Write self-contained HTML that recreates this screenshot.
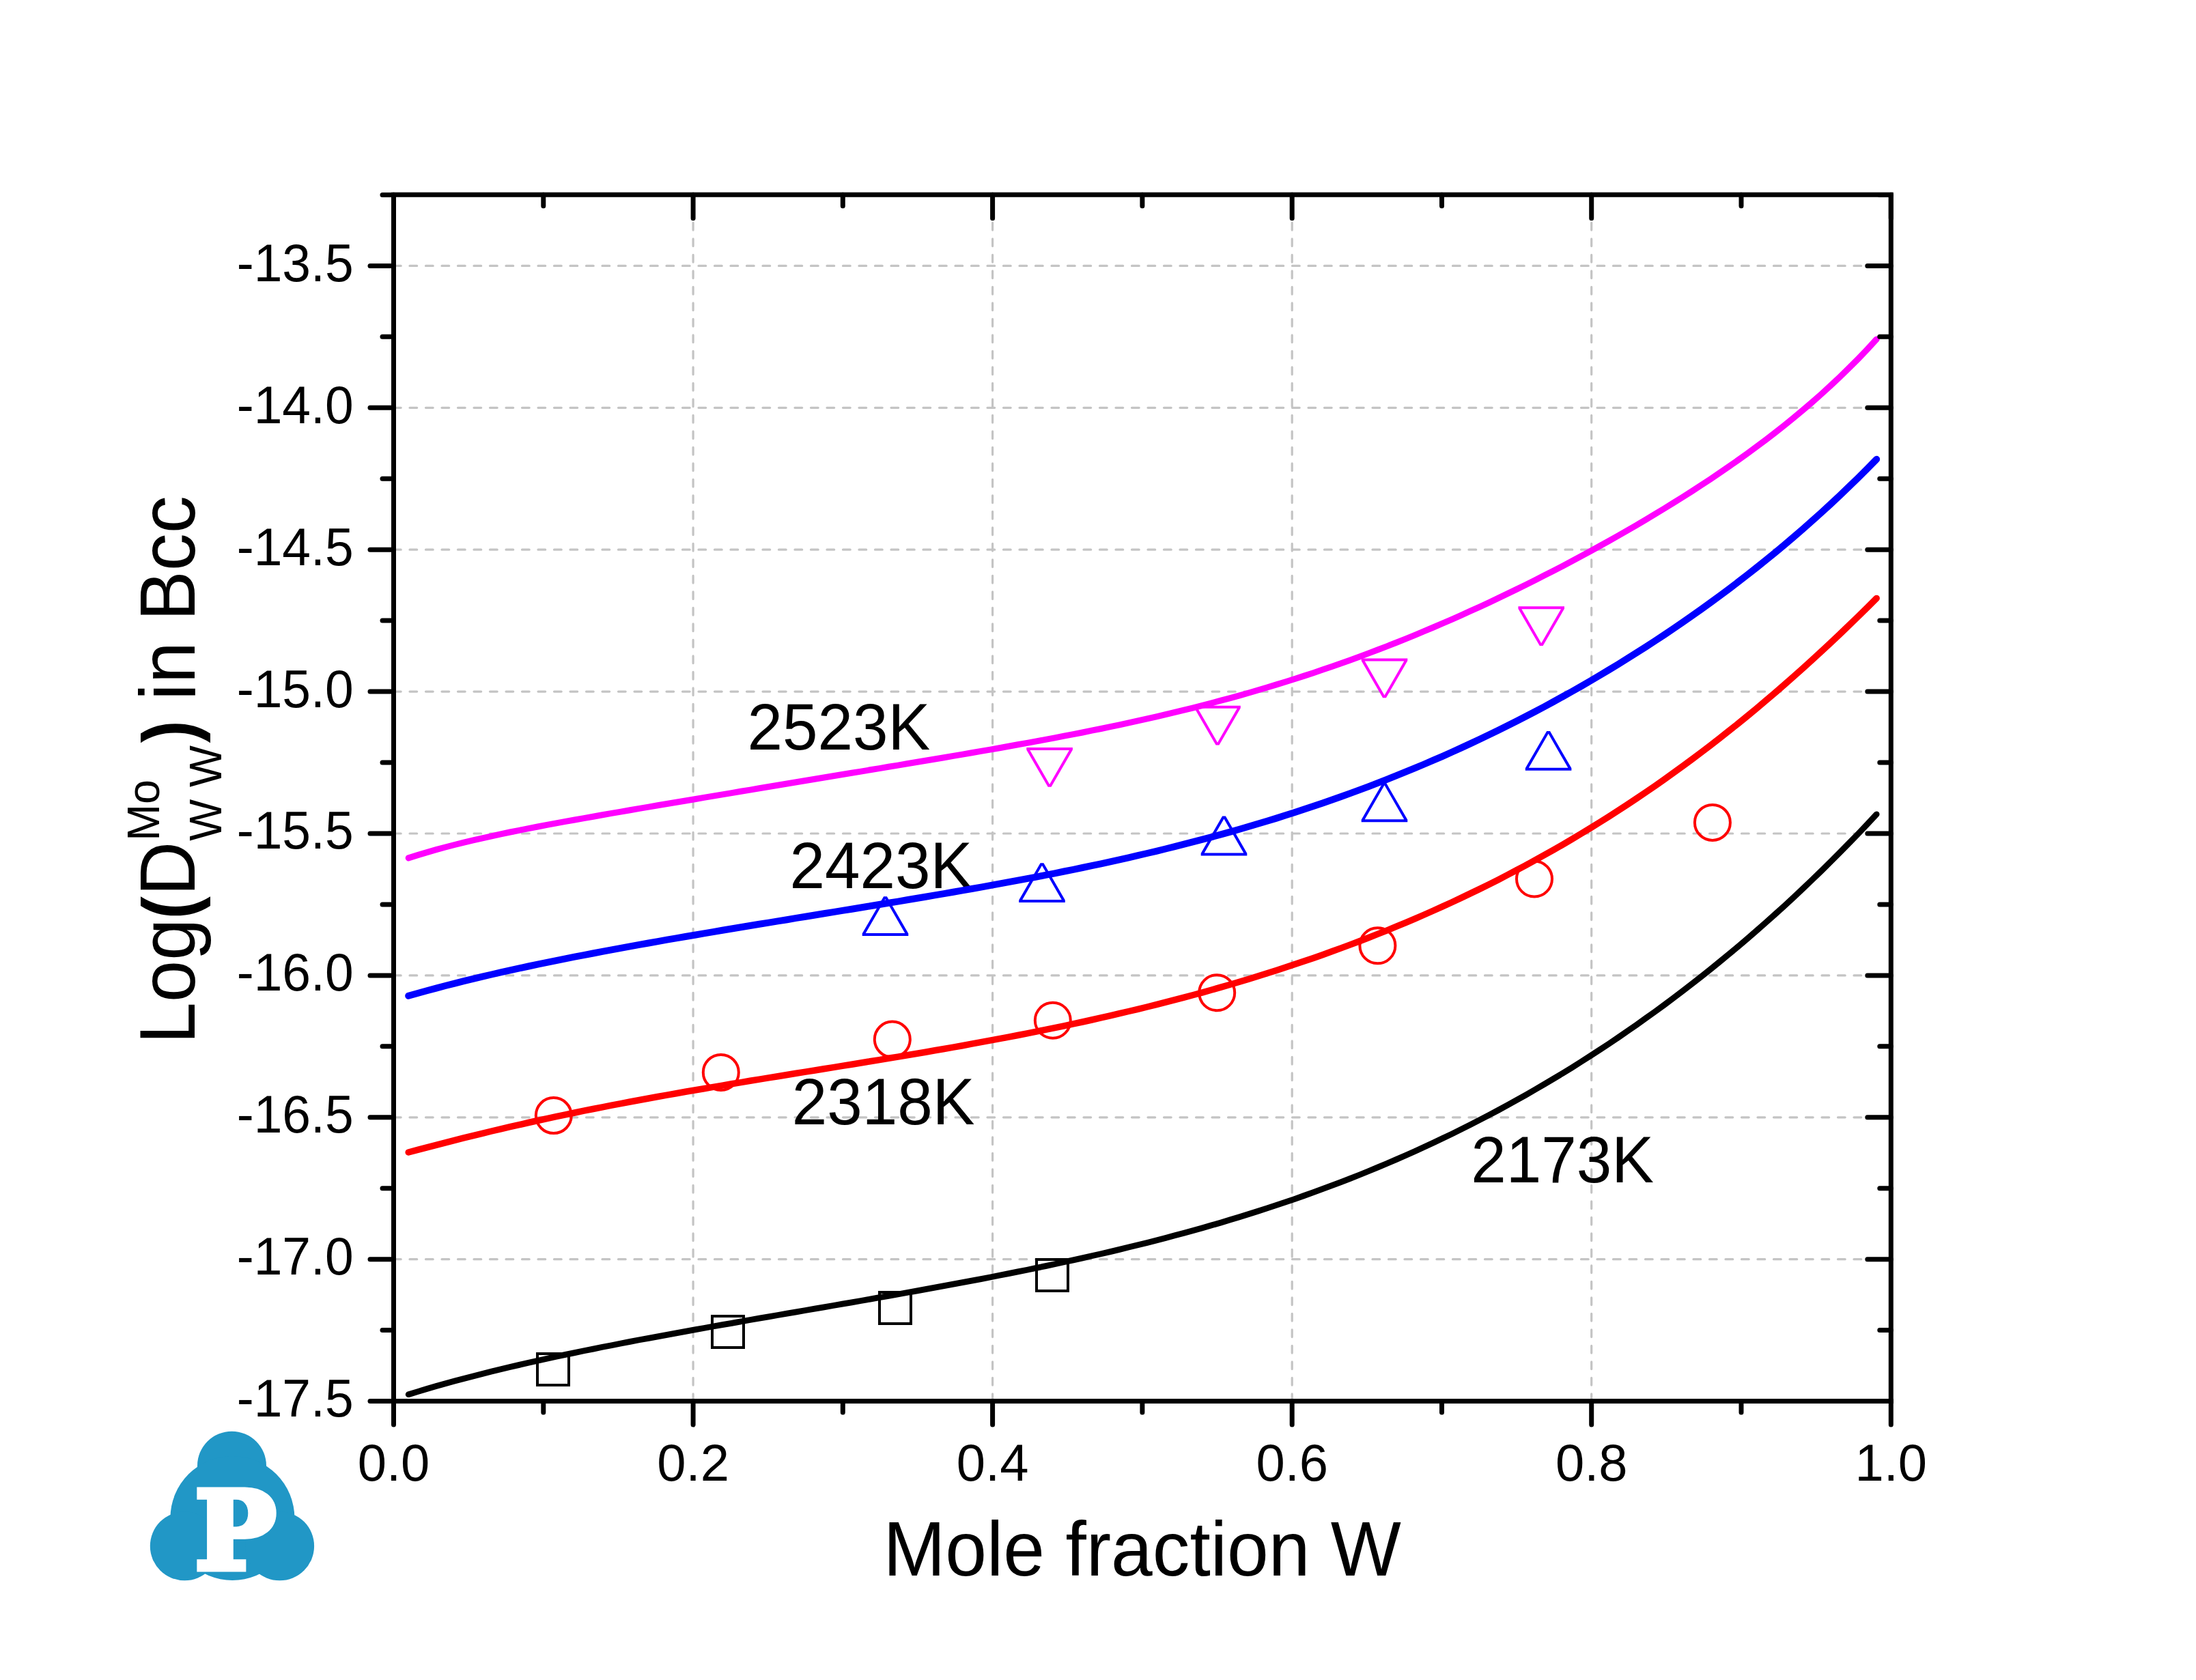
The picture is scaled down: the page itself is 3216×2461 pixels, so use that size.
<!DOCTYPE html>
<html lang="en"><head><meta charset="utf-8"><title>Log(D) in Bcc vs Mole fraction W</title>
<style>html,body{margin:0;padding:0;background:#fff}svg{display:block}text{font-family:"Liberation Sans",sans-serif;fill:#000}</style></head><body>
<svg width="3216" height="2461" viewBox="0 0 3216 2461">
<rect width="3216" height="2461" fill="#fff"/>
<g stroke="#c4c4c4" stroke-width="3.2" fill="none" stroke-dasharray="10.7 12.8" stroke-linecap="round">
<line x1="1015.1" y1="2052.6" x2="1015.1" y2="285.3" stroke-dashoffset="0.0"/>
<line x1="1453.6" y1="2052.6" x2="1453.6" y2="285.3" stroke-dashoffset="0.0"/>
<line x1="1892.2" y1="2052.6" x2="1892.2" y2="285.3" stroke-dashoffset="0.0"/>
<line x1="2330.7" y1="2052.6" x2="2330.7" y2="285.3" stroke-dashoffset="0.0"/>
<line x1="576.5" y1="1844.7" x2="2769.3" y2="1844.7" stroke-dashoffset="0.0"/>
<line x1="576.5" y1="1636.8" x2="2769.3" y2="1636.8" stroke-dashoffset="0.0"/>
<line x1="576.5" y1="1428.9" x2="2769.3" y2="1428.9" stroke-dashoffset="0.0"/>
<line x1="576.5" y1="1221.0" x2="2769.3" y2="1221.0" stroke-dashoffset="0.0"/>
<line x1="576.5" y1="1013.1" x2="2769.3" y2="1013.1" stroke-dashoffset="0.0"/>
<line x1="576.5" y1="805.2" x2="2769.3" y2="805.2" stroke-dashoffset="0.0"/>
<line x1="576.5" y1="597.3" x2="2769.3" y2="597.3" stroke-dashoffset="0.0"/>
<line x1="576.5" y1="389.4" x2="2769.3" y2="389.4" stroke-dashoffset="0.0"/>
</g>
<text transform="translate(1094.4,1098.0) scale(1,1.040)" font-size="92.6">2523K</text>
<text transform="translate(1156.5,1301.2) scale(1,1.040)" font-size="92.6">2423K</text>
<text transform="translate(1159.7,1647.0) scale(1,1.040)" font-size="92.6">2318K</text>
<text transform="translate(2154.2,1732.0) scale(1,1.040)" font-size="92.6">2173K</text>
<g fill="none" stroke-linecap="round" stroke-linejoin="round">
<path d="M598.2,2042.7 L611.7,2038.6 L625.2,2034.5 L638.8,2030.6 L652.3,2026.8 L665.8,2023.1 L679.3,2019.4 L692.9,2015.9 L706.4,2012.4 L719.9,2009.1 L733.4,2005.8 L746.9,2002.5 L760.5,1999.4 L774.0,1996.3 L787.5,1993.2 L801.0,1990.3 L814.6,1987.3 L828.1,1984.4 L841.6,1981.6 L855.1,1978.8 L868.6,1976.1 L882.2,1973.3 L895.7,1970.7 L909.2,1968.0 L922.7,1965.4 L936.3,1962.8 L949.8,1960.3 L963.3,1957.8 L976.8,1955.3 L990.3,1952.8 L1003.9,1950.3 L1017.4,1947.9 L1030.9,1945.5 L1044.4,1943.0 L1057.9,1940.7 L1071.5,1938.3 L1085.0,1935.9 L1098.5,1933.5 L1112.0,1931.2 L1125.6,1928.8 L1139.1,1926.5 L1152.6,1924.2 L1166.1,1921.8 L1179.6,1919.5 L1193.2,1917.2 L1206.7,1914.8 L1220.2,1912.5 L1233.7,1910.2 L1247.3,1907.8 L1260.8,1905.5 L1274.3,1903.1 L1287.8,1900.7 L1301.3,1898.4 L1314.9,1896.0 L1328.4,1893.5 L1341.9,1891.1 L1355.4,1888.7 L1369.0,1886.2 L1382.5,1883.7 L1396.0,1881.2 L1409.5,1878.7 L1423.0,1876.1 L1436.6,1873.6 L1450.1,1871.0 L1463.6,1868.3 L1477.1,1865.6 L1490.7,1862.9 L1504.2,1860.2 L1517.7,1857.4 L1531.2,1854.6 L1544.7,1851.7 L1558.3,1848.8 L1571.8,1845.9 L1585.3,1842.9 L1598.8,1839.8 L1612.4,1836.7 L1625.9,1833.6 L1639.4,1830.4 L1652.9,1827.1 L1666.4,1823.8 L1680.0,1820.4 L1693.5,1816.9 L1707.0,1813.4 L1720.5,1809.8 L1734.0,1806.2 L1747.6,1802.5 L1761.1,1798.7 L1774.6,1794.8 L1788.1,1790.9 L1801.7,1786.8 L1815.2,1782.7 L1828.7,1778.5 L1842.2,1774.3 L1855.7,1769.9 L1869.3,1765.4 L1882.8,1760.9 L1896.3,1756.3 L1909.8,1751.5 L1923.4,1746.7 L1936.9,1741.7 L1950.4,1736.7 L1963.9,1731.6 L1977.4,1726.3 L1991.0,1721.0 L2004.5,1715.5 L2018.0,1709.9 L2031.5,1704.2 L2045.1,1698.4 L2058.6,1692.5 L2072.1,1686.5 L2085.6,1680.3 L2099.1,1674.0 L2112.7,1667.6 L2126.2,1661.1 L2139.7,1654.4 L2153.2,1647.6 L2166.8,1640.7 L2180.3,1633.7 L2193.8,1626.5 L2207.3,1619.1 L2220.8,1611.7 L2234.4,1604.1 L2247.9,1596.3 L2261.4,1588.4 L2274.9,1580.4 L2288.5,1572.2 L2302.0,1563.9 L2315.5,1555.4 L2329.0,1546.8 L2342.5,1538.0 L2356.1,1529.1 L2369.6,1520.0 L2383.1,1510.7 L2396.6,1501.3 L2410.1,1491.7 L2423.7,1482.0 L2437.2,1472.1 L2450.7,1462.0 L2464.2,1451.7 L2477.8,1441.3 L2491.3,1430.7 L2504.8,1420.0 L2518.3,1409.0 L2531.8,1397.9 L2545.4,1386.6 L2558.9,1375.1 L2572.4,1363.4 L2585.9,1351.5 L2599.5,1339.4 L2613.0,1327.2 L2626.5,1314.7 L2640.0,1302.0 L2653.5,1289.1 L2667.1,1276.0 L2680.6,1262.7 L2694.1,1249.2 L2707.6,1235.4 L2721.2,1221.5 L2734.7,1207.2 L2748.2,1192.8" stroke="#000000" stroke-width="8.8"/>
<path d="M598.2,1688.0 L611.7,1684.4 L625.2,1680.8 L638.8,1677.3 L652.3,1673.8 L665.8,1670.3 L679.3,1666.9 L692.9,1663.6 L706.4,1660.3 L719.9,1657.0 L733.4,1653.8 L746.9,1650.7 L760.5,1647.6 L774.0,1644.5 L787.5,1641.5 L801.0,1638.6 L814.6,1635.7 L828.1,1632.8 L841.6,1630.0 L855.1,1627.2 L868.6,1624.5 L882.2,1621.8 L895.7,1619.2 L909.2,1616.6 L922.7,1614.0 L936.3,1611.5 L949.8,1609.0 L963.3,1606.5 L976.8,1604.1 L990.3,1601.7 L1003.9,1599.3 L1017.4,1597.0 L1030.9,1594.7 L1044.4,1592.4 L1057.9,1590.1 L1071.5,1587.8 L1085.0,1585.6 L1098.5,1583.3 L1112.0,1581.1 L1125.6,1578.9 L1139.1,1576.7 L1152.6,1574.5 L1166.1,1572.3 L1179.6,1570.1 L1193.2,1568.0 L1206.7,1565.8 L1220.2,1563.6 L1233.7,1561.4 L1247.3,1559.2 L1260.8,1557.0 L1274.3,1554.8 L1287.8,1552.6 L1301.3,1550.3 L1314.9,1548.1 L1328.4,1545.8 L1341.9,1543.5 L1355.4,1541.2 L1369.0,1538.8 L1382.5,1536.5 L1396.0,1534.1 L1409.5,1531.7 L1423.0,1529.2 L1436.6,1526.7 L1450.1,1524.2 L1463.6,1521.7 L1477.1,1519.1 L1490.7,1516.5 L1504.2,1513.8 L1517.7,1511.1 L1531.2,1508.4 L1544.7,1505.6 L1558.3,1502.8 L1571.8,1499.9 L1585.3,1497.0 L1598.8,1494.0 L1612.4,1490.9 L1625.9,1487.9 L1639.4,1484.7 L1652.9,1481.5 L1666.4,1478.3 L1680.0,1475.0 L1693.5,1471.6 L1707.0,1468.2 L1720.5,1464.7 L1734.0,1461.1 L1747.6,1457.5 L1761.1,1453.8 L1774.6,1450.0 L1788.1,1446.1 L1801.7,1442.2 L1815.2,1438.2 L1828.7,1434.2 L1842.2,1430.0 L1855.7,1425.8 L1869.3,1421.5 L1882.8,1417.1 L1896.3,1412.6 L1909.8,1408.1 L1923.4,1403.4 L1936.9,1398.7 L1950.4,1393.8 L1963.9,1388.9 L1977.4,1383.9 L1991.0,1378.7 L2004.5,1373.5 L2018.0,1368.2 L2031.5,1362.8 L2045.1,1357.2 L2058.6,1351.6 L2072.1,1345.8 L2085.6,1340.0 L2099.1,1334.0 L2112.7,1327.9 L2126.2,1321.7 L2139.7,1315.4 L2153.2,1308.9 L2166.8,1302.4 L2180.3,1295.7 L2193.8,1288.9 L2207.3,1281.9 L2220.8,1274.8 L2234.4,1267.6 L2247.9,1260.2 L2261.4,1252.7 L2274.9,1245.1 L2288.5,1237.3 L2302.0,1229.4 L2315.5,1221.3 L2329.0,1213.1 L2342.5,1204.8 L2356.1,1196.2 L2369.6,1187.6 L2383.1,1178.7 L2396.6,1169.7 L2410.1,1160.6 L2423.7,1151.3 L2437.2,1141.8 L2450.7,1132.2 L2464.2,1122.4 L2477.8,1112.4 L2491.3,1102.3 L2504.8,1091.9 L2518.3,1081.5 L2531.8,1070.8 L2545.4,1060.0 L2558.9,1049.0 L2572.4,1037.8 L2585.9,1026.4 L2599.5,1014.9 L2613.0,1003.2 L2626.5,991.3 L2640.0,979.2 L2653.5,967.0 L2667.1,954.6 L2680.6,942.0 L2694.1,929.2 L2707.6,916.3 L2721.2,903.2 L2734.7,889.9 L2748.2,876.4" stroke="#ff0000" stroke-width="9.5"/>
<path d="M598.2,1458.8 L611.7,1455.0 L625.2,1451.2 L638.8,1447.6 L652.3,1444.0 L665.8,1440.6 L679.3,1437.2 L692.9,1433.9 L706.4,1430.7 L719.9,1427.5 L733.4,1424.4 L746.9,1421.4 L760.5,1418.4 L774.0,1415.5 L787.5,1412.7 L801.0,1409.9 L814.6,1407.1 L828.1,1404.4 L841.6,1401.7 L855.1,1399.1 L868.6,1396.5 L882.2,1393.9 L895.7,1391.4 L909.2,1388.9 L922.7,1386.4 L936.3,1383.9 L949.8,1381.5 L963.3,1379.1 L976.8,1376.7 L990.3,1374.4 L1003.9,1372.0 L1017.4,1369.7 L1030.9,1367.4 L1044.4,1365.1 L1057.9,1362.8 L1071.5,1360.5 L1085.0,1358.3 L1098.5,1356.0 L1112.0,1353.8 L1125.6,1351.6 L1139.1,1349.4 L1152.6,1347.2 L1166.1,1344.9 L1179.6,1342.7 L1193.2,1340.5 L1206.7,1338.3 L1220.2,1336.1 L1233.7,1333.9 L1247.3,1331.7 L1260.8,1329.5 L1274.3,1327.3 L1287.8,1325.0 L1301.3,1322.8 L1314.9,1320.6 L1328.4,1318.3 L1341.9,1316.0 L1355.4,1313.7 L1369.0,1311.4 L1382.5,1309.1 L1396.0,1306.8 L1409.5,1304.4 L1423.0,1302.0 L1436.6,1299.6 L1450.1,1297.2 L1463.6,1294.7 L1477.1,1292.2 L1490.7,1289.7 L1504.2,1287.2 L1517.7,1284.6 L1531.2,1281.9 L1544.7,1279.3 L1558.3,1276.5 L1571.8,1273.8 L1585.3,1271.0 L1598.8,1268.1 L1612.4,1265.3 L1625.9,1262.3 L1639.4,1259.3 L1652.9,1256.3 L1666.4,1253.2 L1680.0,1250.0 L1693.5,1246.8 L1707.0,1243.5 L1720.5,1240.1 L1734.0,1236.7 L1747.6,1233.2 L1761.1,1229.7 L1774.6,1226.1 L1788.1,1222.4 L1801.7,1218.6 L1815.2,1214.8 L1828.7,1210.8 L1842.2,1206.8 L1855.7,1202.8 L1869.3,1198.6 L1882.8,1194.3 L1896.3,1190.0 L1909.8,1185.6 L1923.4,1181.1 L1936.9,1176.5 L1950.4,1171.8 L1963.9,1167.0 L1977.4,1162.1 L1991.0,1157.1 L2004.5,1152.1 L2018.0,1146.9 L2031.5,1141.6 L2045.1,1136.2 L2058.6,1130.7 L2072.1,1125.2 L2085.6,1119.5 L2099.1,1113.7 L2112.7,1107.8 L2126.2,1101.7 L2139.7,1095.6 L2153.2,1089.4 L2166.8,1083.0 L2180.3,1076.6 L2193.8,1070.0 L2207.3,1063.3 L2220.8,1056.5 L2234.4,1049.5 L2247.9,1042.5 L2261.4,1035.3 L2274.9,1028.0 L2288.5,1020.5 L2302.0,1013.0 L2315.5,1005.3 L2329.0,997.5 L2342.5,989.5 L2356.1,981.4 L2369.6,973.2 L2383.1,964.8 L2396.6,956.3 L2410.1,947.7 L2423.7,938.9 L2437.2,930.0 L2450.7,920.9 L2464.2,911.6 L2477.8,902.2 L2491.3,892.6 L2504.8,882.9 L2518.3,873.0 L2531.8,862.9 L2545.4,852.6 L2558.9,842.1 L2572.4,831.5 L2585.9,820.7 L2599.5,809.6 L2613.0,798.4 L2626.5,786.9 L2640.0,775.2 L2653.5,763.3 L2667.1,751.1 L2680.6,738.7 L2694.1,726.1 L2707.6,713.2 L2721.2,700.0 L2734.7,686.5 L2748.2,672.7" stroke="#0000ff" stroke-width="10.0"/>
<path d="M598.2,1256.9 L611.7,1252.6 L625.2,1248.6 L638.8,1244.7 L652.3,1241.0 L665.8,1237.5 L679.3,1234.1 L692.9,1230.9 L706.4,1227.8 L719.9,1224.8 L733.4,1221.8 L746.9,1219.0 L760.5,1216.3 L774.0,1213.6 L787.5,1211.0 L801.0,1208.4 L814.6,1205.9 L828.1,1203.4 L841.6,1201.0 L855.1,1198.6 L868.6,1196.2 L882.2,1193.8 L895.7,1191.4 L909.2,1189.1 L922.7,1186.8 L936.3,1184.4 L949.8,1182.1 L963.3,1179.8 L976.8,1177.5 L990.3,1175.3 L1003.9,1173.0 L1017.4,1170.7 L1030.9,1168.4 L1044.4,1166.1 L1057.9,1163.9 L1071.5,1161.6 L1085.0,1159.3 L1098.5,1157.1 L1112.0,1154.8 L1125.6,1152.5 L1139.1,1150.3 L1152.6,1148.0 L1166.1,1145.8 L1179.6,1143.5 L1193.2,1141.3 L1206.7,1139.0 L1220.2,1136.8 L1233.7,1134.5 L1247.3,1132.3 L1260.8,1130.1 L1274.3,1127.8 L1287.8,1125.6 L1301.3,1123.3 L1314.9,1121.1 L1328.4,1118.8 L1341.9,1116.5 L1355.4,1114.3 L1369.0,1112.0 L1382.5,1109.7 L1396.0,1107.4 L1409.5,1105.1 L1423.0,1102.8 L1436.6,1100.4 L1450.1,1098.1 L1463.6,1095.7 L1477.1,1093.3 L1490.7,1090.8 L1504.2,1088.4 L1517.7,1085.9 L1531.2,1083.4 L1544.7,1080.8 L1558.3,1078.2 L1571.8,1075.6 L1585.3,1073.0 L1598.8,1070.2 L1612.4,1067.5 L1625.9,1064.7 L1639.4,1061.8 L1652.9,1058.9 L1666.4,1055.9 L1680.0,1052.9 L1693.5,1049.8 L1707.0,1046.6 L1720.5,1043.4 L1734.0,1040.1 L1747.6,1036.8 L1761.1,1033.3 L1774.6,1029.8 L1788.1,1026.2 L1801.7,1022.6 L1815.2,1018.8 L1828.7,1015.0 L1842.2,1011.0 L1855.7,1007.0 L1869.3,1002.9 L1882.8,998.8 L1896.3,994.5 L1909.8,990.1 L1923.4,985.7 L1936.9,981.1 L1950.4,976.5 L1963.9,971.7 L1977.4,966.9 L1991.0,962.0 L2004.5,956.9 L2018.0,951.8 L2031.5,946.6 L2045.1,941.3 L2058.6,935.9 L2072.1,930.3 L2085.6,924.7 L2099.1,919.0 L2112.7,913.2 L2126.2,907.3 L2139.7,901.3 L2153.2,895.2 L2166.8,889.1 L2180.3,882.8 L2193.8,876.4 L2207.3,869.9 L2220.8,863.4 L2234.4,856.7 L2247.9,850.0 L2261.4,843.1 L2274.9,836.2 L2288.5,829.2 L2302.0,822.0 L2315.5,814.8 L2329.0,807.5 L2342.5,800.0 L2356.1,792.5 L2369.6,784.9 L2383.1,777.1 L2396.6,769.3 L2410.1,761.3 L2423.7,753.2 L2437.2,745.0 L2450.7,736.7 L2464.2,728.2 L2477.8,719.6 L2491.3,710.8 L2504.8,701.9 L2518.3,692.7 L2531.8,683.5 L2545.4,674.0 L2558.9,664.3 L2572.4,654.4 L2585.9,644.3 L2599.5,633.9 L2613.0,623.2 L2626.5,612.3 L2640.0,601.0 L2653.5,589.5 L2667.1,577.5 L2680.6,565.2 L2694.1,552.5 L2707.6,539.3 L2721.2,525.7 L2734.7,511.6 L2748.2,496.9" stroke="#ff00ff" stroke-width="9.0"/>
</g>
<g fill="none" stroke-width="4.0" stroke-linejoin="miter">
<rect x="787.0" y="1983.0" width="46.0" height="46.0" stroke="#000"/>
<rect x="1043.0" y="1928.0" width="46.0" height="46.0" stroke="#000"/>
<rect x="1288.0" y="1893.0" width="46.0" height="46.0" stroke="#000"/>
<rect x="1518.0" y="1845.0" width="46.0" height="46.0" stroke="#000"/>
<circle cx="810.8" cy="1634.1" r="26.0" stroke="#f00"/>
<circle cx="1055.8" cy="1570.9" r="26.0" stroke="#f00"/>
<circle cx="1306.8" cy="1522.6" r="26.0" stroke="#f00"/>
<circle cx="1541.8" cy="1494.7" r="26.0" stroke="#f00"/>
<circle cx="1782.2" cy="1454.2" r="26.0" stroke="#f00"/>
<circle cx="2017.4" cy="1385.3" r="26.0" stroke="#f00"/>
<circle cx="2247.0" cy="1287.5" r="26.0" stroke="#f00"/>
<circle cx="2507.9" cy="1204.9" r="26.0" stroke="#f00"/>
</g>
<g stroke="none" fill-rule="evenodd">
<path d="M1294.1,1313.2 L1298.9,1313.2 L1330.3,1367.5 L1330.3,1371.0 L1262.7,1371.0 L1262.7,1367.5 Z M1296.5,1317.0 L1267.7,1367.0 L1325.3,1367.0 Z" fill="#00f"/>
<path d="M1523.6,1264.2 L1528.4,1264.2 L1559.8,1318.5 L1559.8,1322.0 L1492.2,1322.0 L1492.2,1318.5 Z M1526.0,1268.0 L1497.2,1318.0 L1554.8,1318.0 Z" fill="#00f"/>
<path d="M1790.1,1195.6 L1794.9,1195.6 L1826.3,1249.9 L1826.3,1253.4 L1758.7,1253.4 L1758.7,1249.9 Z M1792.5,1199.4 L1763.7,1249.4 L1821.3,1249.4 Z" fill="#00f"/>
<path d="M2025.1,1146.5 L2029.9,1146.5 L2061.3,1200.8 L2061.3,1204.2 L1993.7,1204.2 L1993.7,1200.8 Z M2027.5,1150.3 L1998.7,1200.2 L2056.3,1200.2 Z" fill="#00f"/>
<path d="M2265.2,1071.0 L2270.0,1071.0 L2301.4,1125.3 L2301.4,1128.8 L2233.8,1128.8 L2233.8,1125.3 Z M2267.6,1074.8 L2238.8,1124.8 L2296.4,1124.8 Z" fill="#00f"/>
<path d="M1534.7,1152.8 L1539.5,1152.8 L1570.9,1098.5 L1570.9,1095.0 L1503.3,1095.0 L1503.3,1098.5 Z M1537.1,1149.0 L1508.3,1099.0 L1565.9,1099.0 Z" fill="#f0f"/>
<path d="M1780.6,1091.5 L1785.4,1091.5 L1816.8,1037.2 L1816.8,1033.8 L1749.2,1033.8 L1749.2,1037.2 Z M1783.0,1087.7 L1754.2,1037.8 L1811.8,1037.8 Z" fill="#f0f"/>
<path d="M2025.1,1022.3 L2029.9,1022.3 L2061.3,968.0 L2061.3,964.6 L1993.7,964.6 L1993.7,968.0 Z M2027.5,1018.5 L1998.7,968.6 L2056.3,968.6 Z" fill="#f0f"/>
<path d="M2254.8,946.0 L2259.6,946.0 L2291.0,891.7 L2291.0,888.2 L2223.4,888.2 L2223.4,891.7 Z M2257.2,942.2 L2228.4,892.2 L2286.0,892.2 Z" fill="#f0f"/>
</g>
<g stroke="#000" fill="none">
<g stroke-width="7.0" stroke-linecap="butt">
<line x1="576.5" y1="285.3" x2="576.5" y2="2056.1"/>
<line x1="2769.3" y1="285.3" x2="2769.3" y2="2056.1"/>
<line x1="573.0" y1="285.3" x2="2772.8" y2="285.3"/>
<line x1="573.0" y1="2052.6" x2="2772.8" y2="2052.6"/>
</g>
<g stroke-width="7.0" stroke-linecap="round">
<line x1="576.5" y1="2052.6" x2="576.5" y2="2087.1"/>
<line x1="576.5" y1="285.3" x2="576.5" y2="319.8"/>
<line x1="795.8" y1="2052.6" x2="795.8" y2="2069.1"/>
<line x1="795.8" y1="285.3" x2="795.8" y2="301.8"/>
<line x1="1015.1" y1="2052.6" x2="1015.1" y2="2087.1"/>
<line x1="1015.1" y1="285.3" x2="1015.1" y2="319.8"/>
<line x1="1234.3" y1="2052.6" x2="1234.3" y2="2069.1"/>
<line x1="1234.3" y1="285.3" x2="1234.3" y2="301.8"/>
<line x1="1453.6" y1="2052.6" x2="1453.6" y2="2087.1"/>
<line x1="1453.6" y1="285.3" x2="1453.6" y2="319.8"/>
<line x1="1672.9" y1="2052.6" x2="1672.9" y2="2069.1"/>
<line x1="1672.9" y1="285.3" x2="1672.9" y2="301.8"/>
<line x1="1892.2" y1="2052.6" x2="1892.2" y2="2087.1"/>
<line x1="1892.2" y1="285.3" x2="1892.2" y2="319.8"/>
<line x1="2111.5" y1="2052.6" x2="2111.5" y2="2069.1"/>
<line x1="2111.5" y1="285.3" x2="2111.5" y2="301.8"/>
<line x1="2330.7" y1="2052.6" x2="2330.7" y2="2087.1"/>
<line x1="2330.7" y1="285.3" x2="2330.7" y2="319.8"/>
<line x1="2550.0" y1="2052.6" x2="2550.0" y2="2069.1"/>
<line x1="2550.0" y1="285.3" x2="2550.0" y2="301.8"/>
<line x1="2769.3" y1="2052.6" x2="2769.3" y2="2087.1"/>
<line x1="2769.3" y1="285.3" x2="2769.3" y2="319.8"/>
<line x1="576.5" y1="2052.6" x2="542.0" y2="2052.6"/>
<line x1="2769.3" y1="2052.6" x2="2734.8" y2="2052.6"/>
<line x1="576.5" y1="1948.6" x2="560.0" y2="1948.6"/>
<line x1="2769.3" y1="1948.6" x2="2752.8" y2="1948.6"/>
<line x1="576.5" y1="1844.7" x2="542.0" y2="1844.7"/>
<line x1="2769.3" y1="1844.7" x2="2734.8" y2="1844.7"/>
<line x1="576.5" y1="1740.8" x2="560.0" y2="1740.8"/>
<line x1="2769.3" y1="1740.8" x2="2752.8" y2="1740.8"/>
<line x1="576.5" y1="1636.8" x2="542.0" y2="1636.8"/>
<line x1="2769.3" y1="1636.8" x2="2734.8" y2="1636.8"/>
<line x1="576.5" y1="1532.8" x2="560.0" y2="1532.8"/>
<line x1="2769.3" y1="1532.8" x2="2752.8" y2="1532.8"/>
<line x1="576.5" y1="1428.9" x2="542.0" y2="1428.9"/>
<line x1="2769.3" y1="1428.9" x2="2734.8" y2="1428.9"/>
<line x1="576.5" y1="1324.9" x2="560.0" y2="1324.9"/>
<line x1="2769.3" y1="1324.9" x2="2752.8" y2="1324.9"/>
<line x1="576.5" y1="1221.0" x2="542.0" y2="1221.0"/>
<line x1="2769.3" y1="1221.0" x2="2734.8" y2="1221.0"/>
<line x1="576.5" y1="1117.0" x2="560.0" y2="1117.0"/>
<line x1="2769.3" y1="1117.0" x2="2752.8" y2="1117.0"/>
<line x1="576.5" y1="1013.1" x2="542.0" y2="1013.1"/>
<line x1="2769.3" y1="1013.1" x2="2734.8" y2="1013.1"/>
<line x1="576.5" y1="909.1" x2="560.0" y2="909.1"/>
<line x1="2769.3" y1="909.1" x2="2752.8" y2="909.1"/>
<line x1="576.5" y1="805.2" x2="542.0" y2="805.2"/>
<line x1="2769.3" y1="805.2" x2="2734.8" y2="805.2"/>
<line x1="576.5" y1="701.2" x2="560.0" y2="701.2"/>
<line x1="2769.3" y1="701.2" x2="2752.8" y2="701.2"/>
<line x1="576.5" y1="597.3" x2="542.0" y2="597.3"/>
<line x1="2769.3" y1="597.3" x2="2734.8" y2="597.3"/>
<line x1="576.5" y1="493.3" x2="560.0" y2="493.3"/>
<line x1="2769.3" y1="493.3" x2="2752.8" y2="493.3"/>
<line x1="576.5" y1="389.4" x2="542.0" y2="389.4"/>
<line x1="2769.3" y1="389.4" x2="2734.8" y2="389.4"/>
<line x1="576.5" y1="285.4" x2="560.0" y2="285.4"/>
<line x1="2769.3" y1="285.4" x2="2752.8" y2="285.4"/>
</g>
</g>
<text transform="translate(517.6,2075.0) scale(1,1.040)" font-size="75.0" text-anchor="end">-17.5</text>
<text transform="translate(517.6,1867.1) scale(1,1.040)" font-size="75.0" text-anchor="end">-17.0</text>
<text transform="translate(517.6,1659.2) scale(1,1.040)" font-size="75.0" text-anchor="end">-16.5</text>
<text transform="translate(517.6,1451.3) scale(1,1.040)" font-size="75.0" text-anchor="end">-16.0</text>
<text transform="translate(517.6,1243.4) scale(1,1.040)" font-size="75.0" text-anchor="end">-15.5</text>
<text transform="translate(517.6,1035.5) scale(1,1.040)" font-size="75.0" text-anchor="end">-15.0</text>
<text transform="translate(517.6,827.6) scale(1,1.040)" font-size="75.0" text-anchor="end">-14.5</text>
<text transform="translate(517.6,619.7) scale(1,1.040)" font-size="75.0" text-anchor="end">-14.0</text>
<text transform="translate(517.6,411.8) scale(1,1.040)" font-size="75.0" text-anchor="end">-13.5</text>
<text transform="translate(576.5,2169.0) scale(1,1.010)" font-size="76.0" text-anchor="middle">0.0</text>
<text transform="translate(1015.1,2169.0) scale(1,1.010)" font-size="76.0" text-anchor="middle">0.2</text>
<text transform="translate(1453.6,2169.0) scale(1,1.010)" font-size="76.0" text-anchor="middle">0.4</text>
<text transform="translate(1892.2,2169.0) scale(1,1.010)" font-size="76.0" text-anchor="middle">0.6</text>
<text transform="translate(2330.7,2169.0) scale(1,1.010)" font-size="76.0" text-anchor="middle">0.8</text>
<text transform="translate(2769.3,2169.0) scale(1,1.010)" font-size="76.0" text-anchor="middle">1.0</text>
<text transform="translate(1293.4,2308.0) scale(1,1.040)" font-size="109.2">Mole fraction W</text>
<g transform="translate(285,1529.2) rotate(-90)">
<text transform="translate(0.0,0.0) scale(1,1.040)" font-size="110.0">Log</text>
<text x="183.0" y="0.0" font-size="110.0" font-weight="bold" textLength="33.0" lengthAdjust="spacingAndGlyphs">(</text>
<text transform="translate(217.0,0.0) scale(1,1.040)" font-size="110.0">D</text>
<text transform="translate(297.5,-52.4) scale(1,1.040)" font-size="64.5">Mo</text>
<text transform="translate(297.5,38.7) scale(1,1.040)" font-size="64.5">W W</text>
<text x="441.0" y="0.0" font-size="110.0" font-weight="bold" textLength="33.0" lengthAdjust="spacingAndGlyphs">)</text>
<text transform="translate(503.5,0.0) scale(1,1.040)" font-size="110.0">in Bcc</text>
</g>
<g>
<g fill="#2197c6">
<circle cx="339.5" cy="2147.2" r="50.5"/>
<circle cx="340.4" cy="2223.9" r="91"/>
<circle cx="270.3" cy="2264.8" r="50.5"/>
<circle cx="409.6" cy="2264.8" r="50.5"/>
</g>
<text x="285.4" y="2298.4" font-size="157.7" style="font-family:'DejaVu Serif','Liberation Serif',serif;font-weight:bold;fill:#fff;stroke:#fff;stroke-width:9;stroke-linejoin:miter">P</text>
</g>
</svg></body></html>
